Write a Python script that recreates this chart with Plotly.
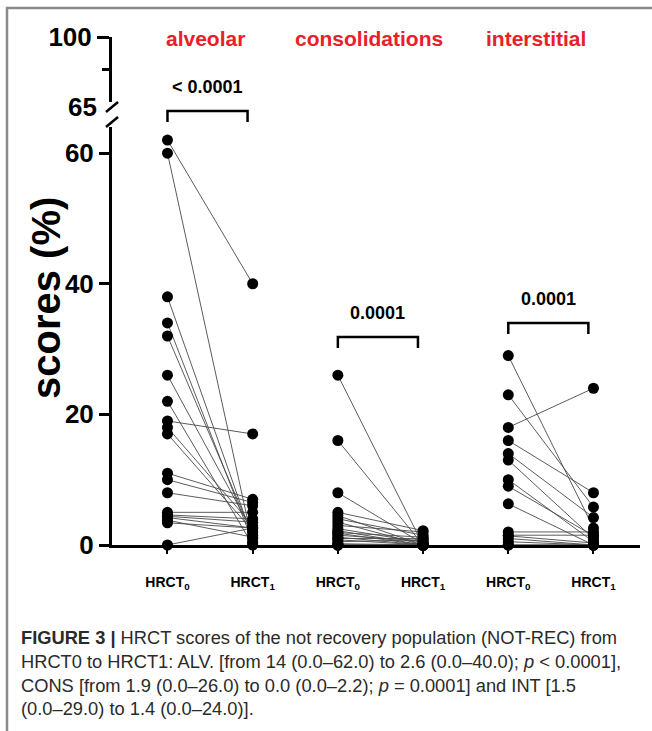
import plotly.graph_objects as go

# ---------------- data ----------------
groups = ["alveolar", "consolidations", "interstitial"]
tick_labels = ["HRCT<sub>0</sub>", "HRCT<sub>1</sub>"] * 3
p_values = ["< 0.0001", "0.0001", "0.0001"]

alv_hrct0 = [62, 60, 38, 34, 32, 26, 22, 19, 18, 17, 11, 10, 8, 5, 4.6, 4.4, 4.2, 3.8, 3.4, 0]
alv_hrct1 = [40, 0.3, 1, 0.5, 1.5, 2, 0, 17, 3, 2.2, 7, 6.5, 6, 5, 4, 3.5, 2.6, 1.2, 2.6, 2.6]

cons_hrct0 = [26, 16, 8, 5, 4.5, 4, 3.5, 3, 2.5, 2.2, 1.9, 1.8, 1.5, 1.2, 1, 0.8, 0.5, 0.2, 0, 0, 0]
cons_hrct1 = [0, 0, 0.2, 2.2, 0, 1.5, 0, 2, 0.4, 0, 1.2, 0, 0.6, 0, 1, 0, 0.8, 0, 0, 0, 0]

int_hrct0 = [29, 23, 18, 16, 14, 13, 10, 9, 6.3, 2, 1.5, 1.4, 1, 0.5, 0, 0]
int_hrct1 = [2.6, 5.8, 24, 8, 4.2, 1, 0.5, 1.4, 0, 2, 1.5, 0.3, 0, 0, 0, 0]

caption_lines = [
    "<b>FIGURE 3 |</b> HRCT scores of the not recovery population (NOT-REC) from",
    "HRCT0 to HRCT1: ALV. [from 14 (0.0–62.0) to 2.6 (0.0–40.0); <i>p</i> &lt; 0.0001],",
    "CONS [from 1.9 (0.0–26.0) to 0.0 (0.0–2.2); <i>p</i> = 0.0001] and INT [1.5",
    "(0.0–29.0) to 1.4 (0.0–24.0)].",
]

pairs = [(alv_hrct0, alv_hrct1), (cons_hrct0, cons_hrct1), (int_hrct0, int_hrct1)]

# ---------------- geometry helpers (pixels -> paper) ----------------
W, H = 652, 731
L, R, T, B = 112, 12, 37, 186
PW, PH = W - L - R, H - T - B


def px(x):
    return (x - L) / PW


def py(y):
    return (H - B - y) / PH


FONT = "Liberation Sans, Arial, Helvetica, sans-serif"

# ---------------- traces ----------------
lx, ly, mx, my = [], [], [], []
for g, (a, b) in enumerate(pairs):
    for v0, v1 in zip(a, b):
        lx += [2 * g, 2 * g + 1, None]
        ly += [v0, v1, None]
        mx += [2 * g, 2 * g + 1]
        my += [v0, v1]

fig = go.Figure()
fig.add_trace(go.Scatter(x=lx, y=ly, mode="lines",
                         line=dict(color="#4a4a4a", width=0.9),
                         hoverinfo="skip", showlegend=False, cliponaxis=False))
fig.add_trace(go.Scatter(x=mx, y=my, mode="markers",
                         marker=dict(color="black", size=11),
                         showlegend=False, cliponaxis=False))
# empty trace so the upper (broken) axis segment is drawn
fig.add_trace(go.Scatter(x=[None], y=[None], yaxis="y2", mode="markers",
                         showlegend=False, hoverinfo="skip"))

# ---------------- axes ----------------
fig.update_layout(
    width=W, height=H,
    margin=dict(l=L, r=R, t=T, b=B),
    paper_bgcolor="white", plot_bgcolor="white",
    font=dict(family=FONT, color="black"),
    xaxis=dict(
        range=[-0.651, 5.546], tickvals=list(range(6)), ticktext=tick_labels,
        showgrid=False, zeroline=False, showline=True, linecolor="black",
        linewidth=3, ticks="outside", ticklen=6, tickwidth=2, tickcolor="black",
        tickfont=dict(size=14, family=FONT, weight="bold"),
        ticklabelstandoff=16, layer="below traces", fixedrange=True,
    ),
    yaxis=dict(
        domain=[0, py(127)], range=[0, 64.0], tickvals=[0, 20, 40, 60],
        showgrid=False, zeroline=False, showline=True, linecolor="black",
        linewidth=3, ticks="outside", ticklen=10, tickwidth=2.5, tickcolor="black",
        tickfont=dict(size=26, family=FONT, weight="bold"),
        layer="below traces", fixedrange=True,
    ),
    yaxis2=dict(
        domain=[py(102), 1], range=[65, 100], anchor="x",
        tickvals=[100], ticktext=["100"],
        showgrid=False, zeroline=False, showline=True, linecolor="black",
        linewidth=3, ticks="outside", ticklen=12, tickwidth=2.5, tickcolor="black",
        minor=dict(tickvals=[82.5], ticklen=7, tickwidth=2.5, tickcolor="black", ticks="outside"),
        tickfont=dict(size=26, family=FONT, weight="bold"),
        layer="below traces", fixedrange=True,
    ),
)

shapes = []
annotations = []

# image frame (top and left gray edges)
shapes.append(dict(type="line", xref="paper", yref="paper", layer="above",
                   x0=px(6), y0=py(8), x1=px(W), y1=py(8),
                   line=dict(color="#8a8a8a", width=2.5)))
shapes.append(dict(type="line", xref="paper", yref="paper", layer="above",
                   x0=px(7), y0=py(7), x1=px(7), y1=py(H),
                   line=dict(color="#8a8a8a", width=2.5)))

# axis-break slashes
for y0, y1 in [(112, 102), (127, 117)]:
    shapes.append(dict(type="line", xref="paper", yref="paper",
                       x0=px(106), y0=py(y0), x1=px(118), y1=py(y1),
                       line=dict(color="black", width=2.5)))

# "65" label at the break
annotations.append(dict(text="<b>65</b>", xref="paper", yref="paper",
                        x=px(99), y=py(107), xanchor="right", yanchor="middle",
                        showarrow=False, font=dict(size=26, family=FONT)))

# y-axis title
annotations.append(dict(text="<b>scores (%)</b>", xref="paper", yref="paper",
                        x=px(46), y=py(298), textangle=-90, xanchor="center",
                        yanchor="middle", showarrow=False,
                        font=dict(size=40, family=FONT)))

# group titles (red)
title_x = [0.45, 2.36, 4.33]
for g, name in enumerate(groups):
    annotations.append(dict(text=f"<b>{name}</b>", xref="x", yref="paper",
                            x=title_x[g], y=py(38), xanchor="center",
                            yanchor="middle", showarrow=False,
                            font=dict(size=21, family=FONT, color="#e8202a")))

# significance brackets (pixel rows of bracket tops)
bracket_top = [111, 337, 323]
for g, p in enumerate(p_values):
    xa, xb = 2 * g + 0.0, 2 * g + 0.94
    ytop, ybot = py(bracket_top[g]), py(bracket_top[g] + 11)
    shapes.append(dict(type="path", xref="x", yref="paper",
                       path=f"M {xa},{ybot} L {xa},{ytop} L {xb},{ytop} L {xb},{ybot}",
                       line=dict(color="black", width=2.5)))
    annotations.append(dict(text=f"<b>{p.replace('<', '&lt;')}</b>", xref="x",
                            yref="paper", x=(xa + xb) / 2,
                            y=py(bracket_top[g] - 24), xanchor="center",
                            yanchor="middle", showarrow=False,
                            font=dict(size=18, family=FONT)))

# caption
cap_y = [637, 661, 685, 709]
for line, yy in zip(caption_lines, cap_y):
    annotations.append(dict(text=line, xref="paper", yref="paper",
                            x=px(19), y=py(yy), xanchor="left", yanchor="middle",
                            showarrow=False,
                            font=dict(size=18.3, family=FONT, color="#2a2a2a")))

fig.update_layout(shapes=shapes, annotations=annotations)

fig.write_html("out.html", config={"displayModeBar": False},
               post_script="document.body.style.margin='0';document.body.style.overflow='hidden';")
